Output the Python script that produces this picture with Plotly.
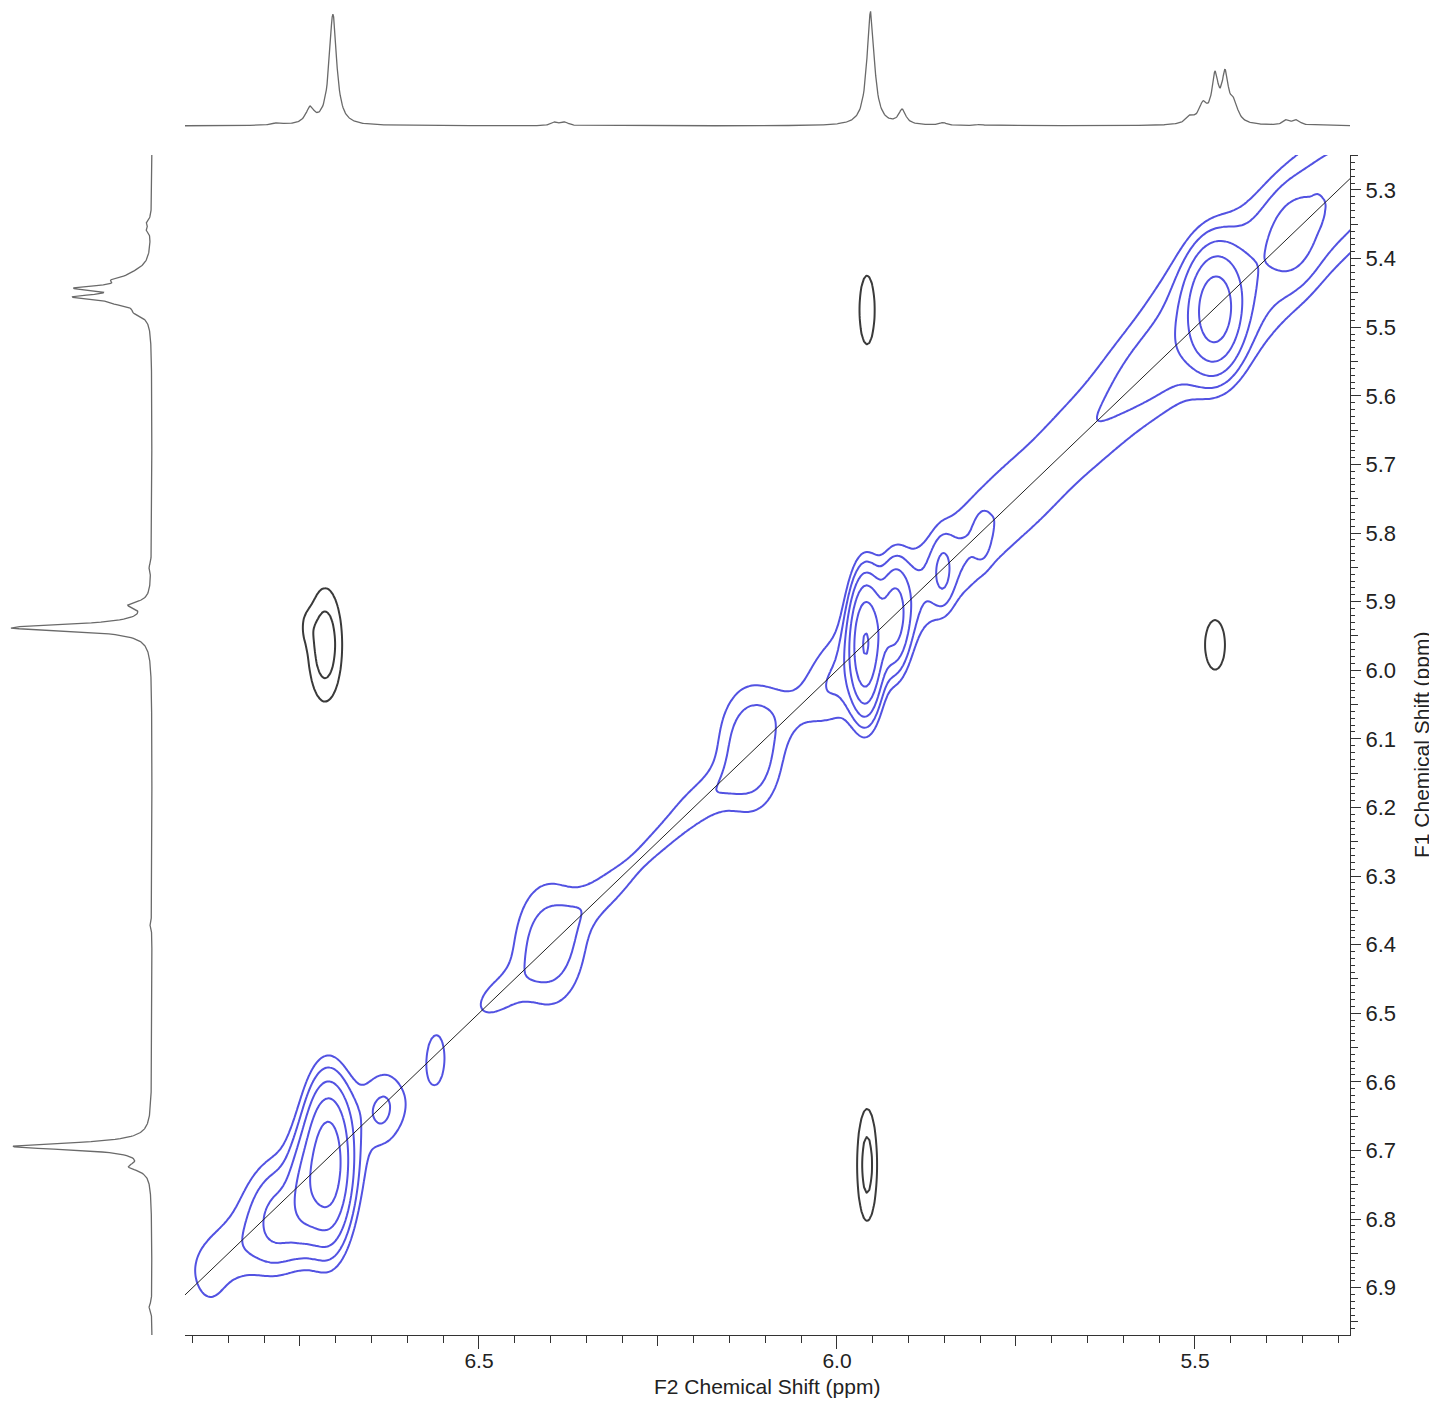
import numpy as np
import plotly.graph_objects as go

# page is rendered with the browser's default 8px body margin
OFF = 8
W, H = 1437 - OFF, 1401 - OFF

# ---------------- axis extents (ppm) ----------------
F2_LEFT, F2_RIGHT = 6.9106, 5.2835      # x axis (reversed)
F1_BOTTOM, F1_TOP = 6.969, 5.249        # y axis (reversed)

F2_MAJOR_TICKS = [6.5, 6.0, 5.5]
F1_MAJOR_TICKS = [5.3, 5.4, 5.5, 5.6, 5.7, 5.8, 5.9, 6.0, 6.1, 6.2, 6.3, 6.4, 6.5, 6.6, 6.7, 6.8, 6.9]

# ---------------- 2D peak list: positive (diagonal) peaks ----------------
# centre F2, centre F1, width F2, width F1, amplitude
DIAG_F2  = [6.711, 6.745, 6.778, 6.875, 6.632, 6.638, 6.560, 6.401, 6.121, 6.005, 5.960, 5.919, 5.852, 5.797, 5.472, 5.363, 5.330]
DIAG_F1  = [6.718, 6.760, 6.805, 6.900, 6.635, 6.647, 6.564, 6.399, 6.116, 6.030, 5.963, 5.922, 5.857, 5.806, 5.475, 5.371, 5.330]
DIAG_W2  = [0.021, 0.015, 0.028, 0.015, 0.020, 0.006, 0.016, 0.040, 0.035, 0.030, 0.0144,0.014, 0.010, 0.007, 0.024, 0.022, 0.004]
DIAG_W1  = [0.075, 0.050, 0.050, 0.030, 0.050, 0.010, 0.045, 0.076, 0.070, 0.045, 0.062, 0.055, 0.035, 0.022, 0.056, 0.045, 0.012]
DIAG_AMP = [8.0,   1.8,   2.0,   0.4,   0.6,   0.3,   1.15,  1.9,   2.2,   1.0,   9.3,   3.6,   1.3,   0.75,  6.5,   1.0,   0.5]

# broad ridge segments along the diagonal:
# centre (ppm), width along diagonal, width across (F1-F2), amplitude
RIDGE_C   = [6.860, 6.750, 6.630, 6.480, 6.400, 6.320, 6.250, 6.190, 6.060, 5.950, 5.850, 5.750, 5.650, 5.560, 5.470, 5.370, 5.280]
RIDGE_SA  = [0.035, 0.090, 0.025, 0.025, 0.050, 0.030, 0.035, 0.030, 0.025, 0.050, 0.050, 0.050, 0.050, 0.045, 0.050, 0.050, 0.050]
RIDGE_SP  = [0.050, 0.080, 0.050, 0.030, 0.040, 0.030, 0.025, 0.035, 0.050, 0.055, 0.060, 0.070, 0.070, 0.070, 0.090, 0.080, 0.080]
RIDGE_AMP = [0.8,   1.1,   0.6,   1.05,  0.3,   1.05,  1.1,   1.1,   0.6,   1.3,   1.4,   1.2,   1.2,   1.45,  2.0,   1.8,   1.9]

# ---------------- 2D peak list: negative (cross) peaks ----------------
CROSS_F2  = [6.715, 6.742, 5.958, 5.472, 5.958]
CROSS_F1  = [5.963, 5.935, 5.475, 5.963, 6.721]
CROSS_W2  = [0.020, 0.008, 0.013, 0.017, 0.0125]
CROSS_W1  = [0.069, 0.020, 0.061, 0.044, 0.073]
CROSS_AMP = [2.05,  0.5,   1.4,   1.4,   1.87]

# contour levels: base level and multiplicative step
LEVEL_BASE, LEVEL_STEP = 1.0, 1.6
N_POS_LEVELS, N_NEG_LEVELS = 6, 2

# ---------------- 1D projections: position, height, half width ----------------
TOP_POS    = [6.781, 6.736, 6.704, 6.394, 6.380, 5.953, 5.909, 5.852, 5.800, 5.507, 5.489, 5.472, 5.458, 5.446, 5.372, 5.358]
TOP_HEIGHT = [0.02,  0.14,  0.99,  0.03,  0.03,  1.02,  0.13,  0.025, 0.01,  0.06,  0.16,  0.40,  0.40,  0.16,  0.045, 0.045]
TOP_HWHM   = [0.008, 0.007, 0.0062,0.006, 0.006, 0.0062,0.006, 0.006, 0.006, 0.007, 0.007, 0.0055,0.0055,0.007, 0.006, 0.006]

LEFT_POS    = [5.347, 5.358, 5.421, 5.431, 5.443, 5.456, 5.465, 5.479, 5.850, 5.905, 5.938, 6.370, 6.694, 6.724, 6.928]
LEFT_HEIGHT = [0.03,  0.03,  0.08,  0.17,  0.45,  0.45,  0.16,  0.08,  0.015, 0.14,  1.01,  0.015, 0.99,  0.13,  0.02]
LEFT_HWHM   = [0.005, 0.005, 0.012, 0.006, 0.0045,0.0045,0.006, 0.007, 0.006, 0.006, 0.006, 0.006, 0.006, 0.007, 0.006]

BLUE = "#5252E2"
NEG = "#3a3a3a"
SPEC = "#6a6a6a"
AXC = "#333333"
FONT = "Liberation Sans, Arial, sans-serif"

# ---------------- build 2D surfaces ----------------
f2 = np.linspace(5.26, 6.93, 460)
f1 = np.linspace(5.23, 6.99, 480)
X, Y = np.meshgrid(f2, f1)

def peak2d(x0, y0, sx, sy, a):
    return a * np.exp(-0.5 * ((X - x0) / sx) ** 2 - 0.5 * ((Y - y0) / sy) ** 2)

def ridge2d(c, sa, sp, a):
    along = (X + Y) / 2.0 - c
    across = Y - X
    return a * np.exp(-0.5 * (along / sa) ** 2 - 0.5 * (across / sp) ** 2)

Zpos = np.zeros_like(X)
for p in zip(DIAG_F2, DIAG_F1, DIAG_W2, DIAG_W1, DIAG_AMP):
    Zpos += peak2d(*p)
for r in zip(RIDGE_C, RIDGE_SA, RIDGE_SP, RIDGE_AMP):
    Zpos += ridge2d(*r)

Zneg = np.zeros_like(X)
for p in zip(CROSS_F2, CROSS_F1, CROSS_W2, CROSS_W1, CROSS_AMP):
    Zneg += peak2d(*p)

Lpos = np.log((Zpos + 1e-6) / LEVEL_BASE) / np.log(LEVEL_STEP)
Lneg = np.log((Zneg + 1e-6) / LEVEL_BASE) / np.log(LEVEL_STEP)

# ---------------- 1D projections ----------------
xs = np.linspace(F2_RIGHT, F2_LEFT, 1600)
top = np.zeros_like(xs)
for p, h, w in zip(TOP_POS, TOP_HEIGHT, TOP_HWHM):
    top += h / (1 + ((xs - p) / w) ** 2)

ys = np.linspace(F1_TOP, F1_BOTTOM, 1600)
left = np.zeros_like(ys)
for p, h, w in zip(LEFT_POS, LEFT_HEIGHT, LEFT_HWHM):
    left += h / (1 + ((ys - p) / w) ** 2)

# ---------------- figure ----------------
fig = go.Figure()

fig.add_trace(go.Contour(
    x=f2, y=f1, z=Lpos, xaxis="x", yaxis="y",
    contours=dict(start=0, end=N_POS_LEVELS - 1, size=1, coloring="lines"),
    colorscale=[[0, BLUE], [1, BLUE]], showscale=False,
    line=dict(width=2, smoothing=1.0), hoverinfo="skip"))

fig.add_trace(go.Contour(
    x=f2, y=f1, z=Lneg, xaxis="x", yaxis="y",
    contours=dict(start=0, end=N_NEG_LEVELS - 1, size=1, coloring="lines"),
    colorscale=[[0, NEG], [1, NEG]], showscale=False,
    line=dict(width=2, smoothing=1.0), hoverinfo="skip"))

# diagonal line
fig.add_trace(go.Scatter(x=[F2_LEFT, F2_RIGHT], y=[F2_LEFT, F2_RIGHT], mode="lines",
                         line=dict(color="#222222", width=1), xaxis="x", yaxis="y",
                         hoverinfo="skip", showlegend=False))

# top projection
fig.add_trace(go.Scatter(x=xs, y=top, mode="lines", line=dict(color=SPEC, width=1.3),
                         xaxis="x3", yaxis="y3", hoverinfo="skip", showlegend=False))
# left projection
fig.add_trace(go.Scatter(x=left, y=ys, mode="lines", line=dict(color=SPEC, width=1.3),
                         xaxis="x4", yaxis="y", hoverinfo="skip", showlegend=False))

def px_x(p):
    return (p - OFF) / W

def px_y(p):
    return 1 - (p - OFF) / H

xdom = [px_x(185), px_x(1350)]
ydom = [px_y(1335), px_y(155)]

xtickfont = dict(family=FONT, size=21, color="#222222")
ytickfont = dict(family=FONT, size=22, color="#222222")

fig.update_layout(
    width=W, height=H,
    margin=dict(l=0, r=0, t=0, b=0),
    paper_bgcolor="white", plot_bgcolor="white",
    showlegend=False,
    xaxis=dict(domain=xdom, range=[F2_LEFT, F2_RIGHT], anchor="y",
               showgrid=False, zeroline=False, showline=True, linecolor=AXC, linewidth=1.2,
               ticks="outside", ticklen=13, tickcolor=AXC, tickwidth=1.2,
               tickvals=F2_MAJOR_TICKS, ticktext=[f"{v:.1f}" for v in F2_MAJOR_TICKS],
               tickfont=xtickfont, ticklabelstandoff=-6,
               minor=dict(dtick=0.05, tick0=0, ticks="outside", ticklen=7, tickcolor=AXC, tickwidth=1.2)),
    xaxis2=dict(overlaying="x", matches="x", anchor="y", side="bottom", showgrid=False, zeroline=False,
                showline=False, ticks="outside", ticklen=10, tickcolor=AXC, tickwidth=1.2,
                dtick=0.25, tick0=0, showticklabels=False),
    yaxis=dict(domain=ydom, range=[F1_BOTTOM, F1_TOP], anchor="x", side="right",
               showgrid=False, zeroline=False, showline=True, linecolor=AXC, linewidth=1.2,
               ticks="outside", ticklen=10, tickcolor=AXC, tickwidth=1.2,
               tickvals=F1_MAJOR_TICKS, ticktext=[f"{v:.1f}" for v in F1_MAJOR_TICKS],
               tickfont=ytickfont,
               minor=dict(dtick=0.01, tick0=0, ticks="outside", ticklen=4, tickcolor=AXC, tickwidth=1)),
    yaxis2=dict(overlaying="y", matches="y", anchor="x", side="right", showgrid=False, zeroline=False,
                showline=False, ticks="outside", ticklen=7, tickcolor=AXC, tickwidth=1.2,
                dtick=0.05, tick0=0, showticklabels=False),
    xaxis3=dict(domain=xdom, range=[F2_LEFT, F2_RIGHT], anchor="y3", visible=False),
    yaxis3=dict(domain=[px_y(140), px_y(8)], range=[-0.126, 1.0518], anchor="x3", visible=False),
    xaxis4=dict(domain=[px_x(8), px_x(160)], range=[1.0286, -0.057], anchor="y", visible=False),
    annotations=[
        dict(text="F2 Chemical Shift (ppm)", x=px_x(767), y=px_y(1386), xref="paper", yref="paper",
             showarrow=False, font=dict(family=FONT, size=21, color="#222222"),
             xanchor="center", yanchor="middle"),
        dict(text="F1 Chemical Shift (ppm)", x=px_x(1421), y=px_y(745), xref="paper", yref="paper",
             showarrow=False, textangle=-90, font=dict(family=FONT, size=21, color="#222222"),
             xanchor="center", yanchor="middle"),
    ],
)

# invisible traces to activate the overlay tick axes
fig.add_trace(go.Scatter(x=[F2_LEFT], y=[F1_BOTTOM], xaxis="x2", yaxis="y", mode="markers",
                         marker=dict(opacity=0), hoverinfo="skip", showlegend=False))
fig.add_trace(go.Scatter(x=[F2_LEFT], y=[F1_BOTTOM], xaxis="x", yaxis="y2", mode="markers",
                         marker=dict(opacity=0), hoverinfo="skip", showlegend=False))

fig.write_html("out.html")
